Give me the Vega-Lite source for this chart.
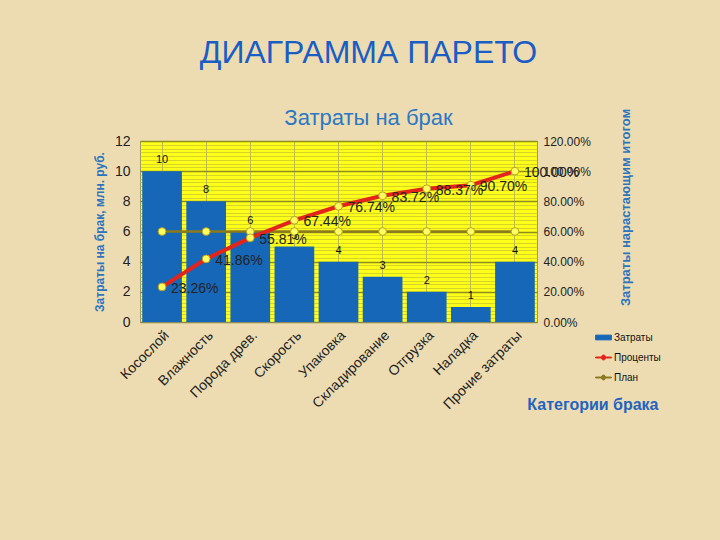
{
  "$schema": "https://vega.github.io/schema/vega-lite/v6.json",
  "width": 397,
  "height": 181,
  "autosize": "none",
  "padding": {"left": 140, "top": 141, "right": 183, "bottom": 218},
  "background": "#eddcb2",
  "title": {
    "text": "ДИАГРАММА ПАРЕТО",
    "subtitle": "Затраты на брак",
    "anchor": "middle",
    "dx": 30,
    "offset": -22,
    "font": "Liberation Sans",
    "fontSize": 32,
    "fontWeight": "normal",
    "color": "#1a5ec4",
    "subtitleFont": "Liberation Sans",
    "subtitleFontSize": 22,
    "subtitleColor": "#2b78c4",
    "subtitlePadding": 38
  },
  "config": {
    "view": {"fill": "#ffff1a", "stroke": "#9a9a60", "strokeWidth": 1},
    "axis": {
      "labelFont": "Liberation Sans",
      "labelColor": "#222222",
      "titleFont": "Liberation Sans",
      "titleColor": "#2a74c0",
      "titleFontWeight": "bold"
    }
  },
  "data": {
    "values": [
      {"cat": "Косослой", "cost": 10, "pct": 0.2326, "plan": 0.6},
      {"cat": "Влажность", "cost": 8, "pct": 0.4186, "plan": 0.6},
      {"cat": "Порода древ.", "cost": 6, "pct": 0.5581, "plan": 0.6},
      {"cat": "Скорость", "cost": 5, "pct": 0.6744, "plan": 0.6},
      {"cat": "Упаковка", "cost": 4, "pct": 0.7674, "plan": 0.6},
      {"cat": "Складирование", "cost": 3, "pct": 0.8372, "plan": 0.6},
      {"cat": "Отгрузка", "cost": 2, "pct": 0.8837, "plan": 0.6},
      {"cat": "Наладка", "cost": 1, "pct": 0.907, "plan": 0.6},
      {"cat": "Прочие затраты", "cost": 4, "pct": 1.0, "plan": 0.6}
    ]
  },
  "encoding": {
    "x": {
      "field": "cat",
      "type": "nominal",
      "sort": null,
      "scale": {"paddingInner": 0.1, "paddingOuter": 0.05},
      "axis": {
        "title": "Категории брака",
        "labelAngle": -45,
        "labelFontSize": 14,
        "labelPadding": 6,
        "ticks": false,
        "domainColor": "#8a8a60",
        "grid": true,
        "gridColor": "#a8a860",
        "gridWidth": 0.8,
        "titleColor": "#1f64c0",
        "titleFontSize": 16,
        "titleAlign": "right",
        "titleAnchor": "end",
        "titleX": 518,
        "titleY": 74
      }
    }
  },
  "layer": [
    {
      "encoding": {
        "y": {
          "field": "cost",
          "type": "quantitative",
          "scale": {"domain": [0, 12]},
          "axis": {
            "title": "Затраты на брак, млн. руб.",
            "titleFontSize": 12,
            "titlePadding": 8,
            "values": [0, 0.25, 0.5, 0.75, 1, 1.25, 1.5, 1.75, 2, 2.25, 2.5, 2.75, 3, 3.25, 3.5, 3.75, 4, 4.25, 4.5, 4.75, 5, 5.25, 5.5, 5.75, 6, 6.25, 6.5, 6.75, 7, 7.25, 7.5, 7.75, 8, 8.25, 8.5, 8.75, 9, 9.25, 9.5, 9.75, 10, 10.25, 10.5, 10.75, 11, 11.25, 11.5, 11.75, 12],
            "labelExpr": "datum.value % 2 == 0 ? format(datum.value, 'd') : ''",
            "labelFontSize": 14,
            "labelPadding": 10,
            "ticks": false,
            "domain": false,
            "grid": true,
            "gridColor": {"condition": {"test": "datum.value % 2 == 0", "value": "#8c8c20"}, "value": "#c2c230"},
            "gridWidth": {"condition": {"test": "datum.value % 2 == 0", "value": 1.3}, "value": 0.7}
          }
        }
      },
      "layer": [
        {
          "mark": {"type": "bar", "color": "#1767b8"},
          "encoding": {
            "color": {
              "datum": "Затраты",
              "scale": {"domain": ["Затраты", "Проценты", "План"], "range": ["#1767b8", "#e3241b", "#8c7a1e"]},
              "legend": {
                "title": null,
                "orient": "none",
                "legendX": 455,
                "legendY": 188,
                "symbolType": "M-1,-0.3H1V0.3H-1Z",
                "symbolSize": 250,
                "symbolStrokeWidth": 1,
                "labelFont": "Liberation Sans",
                "labelFontSize": 10,
                "labelColor": "#111111",
                "rowPadding": 6,
                "labelOffset": 2,
                "encode": {
                  "symbols": {
                    "update": {
                      "shape": {"signal": "datum.value == 'Затраты' ? 'M-1,-0.3H1V0.3H-1Z' : 'M-1,-0.06H-0.25A0.25,0.25,0,1,1,0.25,-0.06H1V0.06H0.25A0.25,0.25,0,1,1,-0.25,0.06H-1Z'"}
                    }
                  }
                }
              }
            }
          }
        },
        {
          "mark": {"type": "text", "baseline": "bottom", "dy": -6, "fontSize": 11, "font": "Liberation Sans", "color": "#111111"},
          "encoding": {"text": {"field": "cost", "type": "quantitative"}}
        }
      ]
    },
    {
      "encoding": {
        "y": {
          "field": "pct",
          "type": "quantitative",
          "scale": {"domain": [0, 1.2]},
          "axis": {
            "title": "Затраты нарастающим итогом",
            "titleFontSize": 13,
            "titlePadding": 42,
            "titleAngle": 270,
            "titleY": 66,
            "values": [0, 0.2, 0.4, 0.6, 0.8, 1, 1.2],
            "format": ".2%",
            "labelFontSize": 12,
            "labelPadding": 6,
            "ticks": false,
            "domain": false,
            "grid": false
          }
        }
      },
      "layer": [
        {
          "mark": {"type": "line", "strokeWidth": 2.5},
          "encoding": {
            "y": {
              "field": "plan",
              "type": "quantitative",
              "axis": {
                "title": "Затраты нарастающим итогом",
                "titleFontSize": 13,
                "titlePadding": 42,
                "titleAngle": 270,
                "titleY": 66,
                "values": [0, 0.2, 0.4, 0.6, 0.8, 1, 1.2],
                "format": ".2%",
                "labelFontSize": 12,
                "labelPadding": 6,
                "ticks": false,
                "domain": false,
                "grid": false
              }
            },
            "color": {"datum": "План"}
          }
        },
        {
          "mark": {"type": "point", "filled": true, "size": 60, "fill": "#ffff60", "stroke": "#b8a020", "strokeWidth": 1, "opacity": 1},
          "encoding": {
            "y": {
              "field": "plan",
              "type": "quantitative",
              "axis": {
                "title": "Затраты нарастающим итогом",
                "titleFontSize": 13,
                "titlePadding": 42,
                "titleAngle": 270,
                "titleY": 66,
                "values": [0, 0.2, 0.4, 0.6, 0.8, 1, 1.2],
                "format": ".2%",
                "labelFontSize": 12,
                "labelPadding": 6,
                "ticks": false,
                "domain": false,
                "grid": false
              }
            }
          }
        },
        {
          "mark": {"type": "line", "strokeWidth": 4},
          "encoding": {"color": {"datum": "Проценты"}}
        },
        {
          "mark": {"type": "point", "filled": true, "size": 60, "fill": "#ffff60", "stroke": "#b8a020", "strokeWidth": 1, "opacity": 1}
        },
        {
          "mark": {"type": "text", "align": "left", "baseline": "middle", "dx": 9, "dy": 2, "fontSize": 14, "font": "Liberation Sans", "color": "#222222"},
          "encoding": {"text": {"field": "pct", "type": "quantitative", "format": ".2%"}}
        }
      ]
    }
  ],
  "resolve": {"scale": {"y": "independent"}}
}
